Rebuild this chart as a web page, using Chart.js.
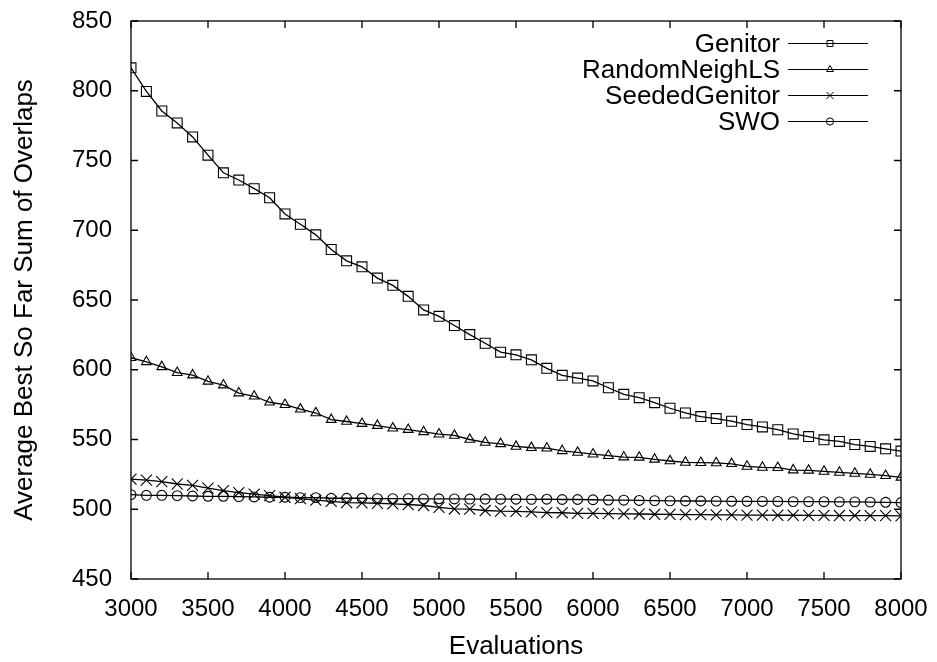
<!DOCTYPE html>
<html>
<head>
<meta charset="utf-8">
<title>Best so far overlaps</title>
<script src="https://cdn.jsdelivr.net/npm/chart.js@4.4.1/dist/chart.umd.min.js"></script>
<style>
  html, body { margin: 0; padding: 0; background: #fff; }
</style>
</head>
<body>
<canvas id="grafico" width="937" height="662"></canvas>
<script>
// evaluations (x) every 100 from 3000 to 8000
const evaluaciones = [3000, 3100, 3200, 3300, 3400, 3500, 3600, 3700, 3800, 3900,
  4000, 4100, 4200, 4300, 4400, 4500, 4600, 4700, 4800, 4900,
  5000, 5100, 5200, 5300, 5400, 5500, 5600, 5700, 5800, 5900,
  6000, 6100, 6200, 6300, 6400, 6500, 6600, 6700, 6800, 6900,
  7000, 7100, 7200, 7300, 7400, 7500, 7600, 7700, 7800, 7900, 8000];

const genitor = [816.4, 799.5, 785.5, 776.9, 766.9, 753.8, 741.2, 736.0, 729.8, 723.3,
  711.7, 704.3, 696.7, 686.2, 678.1, 673.8, 665.7, 660.5, 652.6, 642.9,
  638.3, 631.7, 625.2, 619.0, 612.6, 610.7, 607.1, 601.0, 596.0, 594.0,
  592.0, 587.1, 582.4, 580.0, 576.4, 572.4, 569.0, 566.4, 565.0, 563.1,
  560.7, 559.0, 557.0, 554.0, 552.1, 549.8, 548.6, 546.4, 545.0, 543.3, 541.7];

const randomNeighLS = [608.6, 605.7, 602.1, 597.9, 596.2, 591.7, 589.0, 583.3, 581.0, 576.7,
  575.0, 571.7, 569.0, 564.3, 562.9, 561.4, 560.0, 558.1, 557.1, 555.5,
  553.8, 552.9, 550.0, 547.9, 546.9, 545.0, 544.1, 543.8, 541.9, 540.7,
  539.5, 538.4, 537.4, 537.2, 535.8, 534.6, 533.6, 533.4, 533.2, 532.6,
  530.7, 530.0, 529.8, 528.1, 527.9, 527.1, 526.4, 525.7, 525.0, 524.1, 522.9];

const seededGenitor = [521.6, 520.9, 519.8, 518.1, 517.1, 515.2, 513.4, 511.9, 510.9, 509.8,
  508.6, 507.6, 506.6, 505.7, 504.8, 504.6, 504.3, 503.9, 503.4, 502.7,
  501.4, 500.2, 500.1, 499.1, 498.6, 498.5, 498.1, 497.6, 497.5, 497.1,
  497.0, 496.9, 496.7, 496.6, 496.4, 496.3, 496.2, 496.1, 496.0, 495.9,
  495.8, 495.8, 495.7, 495.7, 495.6, 495.6, 495.5, 495.5, 495.4, 495.4, 495.3];

const swo = [510.5, 510.0, 510.0, 509.8, 509.5, 509.3, 509.3, 509.1, 508.8, 508.6,
  508.6, 508.3, 508.3, 507.9, 507.9, 507.9, 507.6, 507.6, 507.6, 507.4,
  507.5, 507.4, 507.3, 507.3, 507.2, 507.2, 507.1, 507.2, 507.0, 507.0,
  506.8, 506.6, 506.5, 506.3, 506.2, 506.0, 505.9, 505.9, 505.8, 505.7,
  505.7, 505.6, 505.6, 505.5, 505.5, 505.4, 505.3, 505.3, 505.1, 505.0, 504.8];

const nombres = ['Genitor', 'RandomNeighLS', 'SeededGenitor', 'SWO'];
const series = [genitor, randomNeighLS, seededGenitor, swo];
const marcadores = ['rect', 'triangle', 'crossRot', 'circle'];
const radios = [7, 5.6, 7.8, 4.9];
const radiosLeyenda = [4.2, 4, 5, 3.6];

const fuente = "'Liberation Sans', Arial, Helvetica, sans-serif";
Chart.defaults.font.family = fuente;
Chart.defaults.color = '#000';

function puntos(valores) {
  return valores.map(function (v, i) { return {x: evaluaciones[i], y: v}; });
}

// no extra room for labels that stick out past the plot
function sinRelleno(scale) {
  scale.paddingTop = 0;
  scale.paddingBottom = 0;
  scale.paddingLeft = 0;
  scale.paddingRight = 0;
}

// box around the plot with inward ticks on all four sides
const marco = {
  id: 'marco',
  afterDatasetsDraw(chart) {
    const ctx = chart.ctx;
    const a = chart.chartArea;
    const xs = chart.scales.x, ys = chart.scales.y;
    const largo = 7;
    ctx.save();
    ctx.strokeStyle = '#000';
    ctx.lineWidth = 1.3;
    ctx.strokeRect(a.left, a.top, a.right - a.left, a.bottom - a.top);
    ctx.beginPath();
    xs.ticks.forEach(function (t) {
      const px = xs.getPixelForValue(t.value);
      ctx.moveTo(px, a.bottom); ctx.lineTo(px, a.bottom - largo);
      ctx.moveTo(px, a.top); ctx.lineTo(px, a.top + largo);
    });
    ys.ticks.forEach(function (t) {
      const py = ys.getPixelForValue(t.value);
      ctx.moveTo(a.left, py); ctx.lineTo(a.left + largo, py);
      ctx.moveTo(a.right, py); ctx.lineTo(a.right - largo, py);
    });
    ctx.stroke();
    ctx.restore();
  }
};

// key in the top right corner: name, then a line sample with its marker
const leyenda = {
  id: 'leyenda',
  afterDatasetsDraw(chart) {
    const ctx = chart.ctx;
    const a = chart.chartArea;
    const textoDer = a.right - 121;
    const lineaIni = a.right - 113;
    const lineaFin = a.right - 33;
    const marcaX = a.right - 71;
    ctx.save();
    ctx.font = '26px ' + fuente;
    ctx.textAlign = 'right';
    ctx.textBaseline = 'middle';
    chart.data.datasets.forEach(function (ds, i) {
      const y = a.top + 22.5 + i * 26;
      ctx.fillStyle = '#000';
      ctx.fillText(ds.label, textoDer, y + 1);
      ctx.strokeStyle = '#000';
      ctx.lineWidth = 1;
      ctx.beginPath();
      ctx.moveTo(lineaIni, y);
      ctx.lineTo(lineaFin, y);
      ctx.stroke();
      ctx.fillStyle = 'rgba(0,0,0,0)';
      Chart.helpers.drawPoint(ctx, {
        pointStyle: ds.pointStyle, rotation: 0,
        radius: radiosLeyenda[i], borderWidth: 1
      }, marcaX, y);
    });
    ctx.restore();
  }
};

const conjuntos = nombres.map(function (n, i) {
  return {
    label: n,
    data: puntos(series[i]),
    borderColor: '#000',
    borderWidth: 1.3,
    pointStyle: marcadores[i],
    pointRadius: radios[i],
    pointBorderColor: '#000',
    pointBorderWidth: 1.1,
    pointBackgroundColor: 'rgba(0,0,0,0)',
    tension: 0,
    fill: false
  };
});

new Chart(document.getElementById('grafico'), {
  type: 'line',
  data: { datasets: conjuntos },
  options: {
    responsive: false,
    animation: false,
    layout: { padding: { left: 0, right: 36, top: 21, bottom: 0 } },
    plugins: {
      legend: { display: false },
      tooltip: { enabled: false }
    },
    scales: {
      x: {
        type: 'linear',
        min: 3000,
        max: 8000,
        grid: { display: false, drawTicks: false },
        border: { display: false },
        ticks: {
          stepSize: 500, padding: 16, font: { size: 24 }, color: '#000', maxRotation: 0,
          callback: function (v) { return String(v); }
        },
        title: { display: true, text: 'Evaluations', font: { size: 26 }, color: '#000', padding: { top: 0, bottom: 0 } },
        afterFit(scale) { scale.height = 83; sinRelleno(scale); }
      },
      y: {
        min: 450,
        max: 850,
        grid: { display: false, drawTicks: false },
        border: { display: false },
        ticks: { stepSize: 50, padding: 19, font: { size: 24 }, color: '#000' },
        title: { display: true, text: 'Average Best So Far Sum of Overlaps', font: { size: 26 }, color: '#000', padding: { top: 9, bottom: 0 } },
        afterFit(scale) { scale.width = 131; sinRelleno(scale); }
      }
    }
  },
  plugins: [marco, leyenda]
});
</script>
</body>
</html>
